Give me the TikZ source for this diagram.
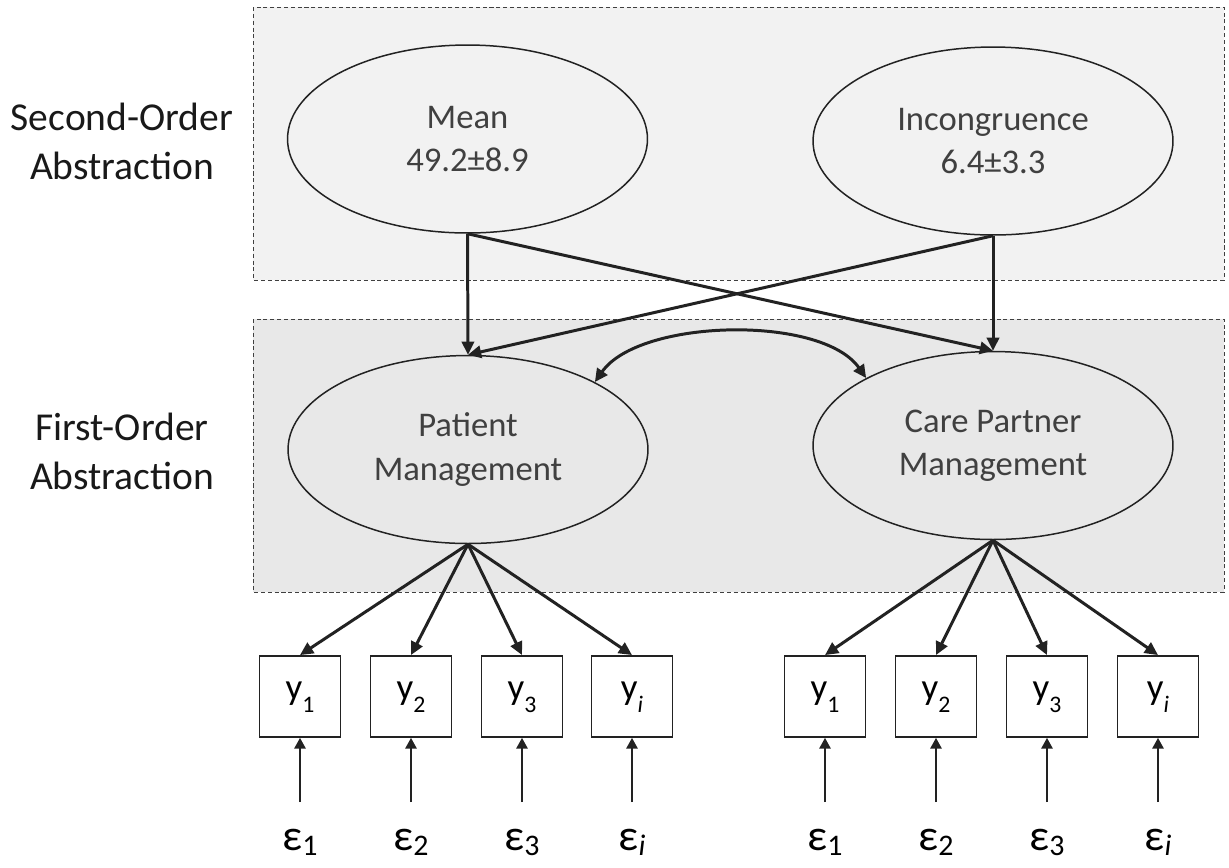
\documentclass[tikz,border=0pt]{standalone}
\usepackage{fontspec}
\setmainfont{Carlito}
\usepackage{xcolor}
\usetikzlibrary{shapes.geometric}
\usetikzlibrary{arrows.meta}
\definecolor{linegray}{HTML}{222222}
\definecolor{textgray}{HTML}{404040}
\definecolor{topfill}{HTML}{F2F2F2}
\definecolor{lowfill}{HTML}{E8E8E8}
\newcommand{\lowidx}[1]{\raisebox{-0.34em}{\fontsize{13.5}{14}\selectfont #1}}
\newcommand{\erridx}[1]{\raisebox{-0.12em}{\fontsize{17}{18}\selectfont #1}}
\tikzset{latent/.style={ellipse,draw=linegray,line width=0.85pt,minimum width=7.2cm,
   minimum height=3.76cm,inner sep=0pt,align=center,text=textgray,
   font=\fontsize{19.7}{24.6}\selectfont},
 indicator/.style={draw=linegray,line width=1.1pt,minimum size=1.62cm,inner sep=0pt,
   text height=11pt,font=\fontsize{21}{24}\selectfont},
 errlabel/.style={anchor=base,inner sep=0pt,font=\fontsize{25}{28}\selectfont},
 levellabel/.style={align=center,text=black!90,font=\fontsize{22.5}{27.8}\selectfont},
 layer/.style={draw=textgray,line width=0.5pt,dash pattern=on 2.3pt off 1.6pt},
 load/.style={draw=linegray,line width=1.7pt,-{Triangle[length=7.5pt,width=7pt]}},
 cov/.style={draw=linegray,line width=1.7pt,
   {Triangle[length=7.5pt,width=7pt]}-{Triangle[length=7.5pt,width=7pt]}},
 noise/.style={draw=linegray,line width=0.6pt,-{Triangle[length=6pt,width=6.5pt]}},
 }

\begin{document}
\begin{tikzpicture}[x=0.02cm,y=0.02cm]
    \path[use as bounding box,fill=white] (0,0) rectangle (1229,-867);
    \draw[layer,fill=topfill] (253,-7) rectangle (1224,-280);
    \draw[layer,fill=lowfill] (253,-319) rectangle (1224,-592);

    \node[levellabel] (lsecond) at (122,-141) {Second-Order\\Abstraction};
    \node[levellabel] (lfirst) at (122,-451) {First-Order\\Abstraction};

    \node[latent] (mean) at (467.5,-139) {Mean\\49.2±8.9};
    \node[latent] (incong) at (993,-141) {Incongruence\\6.4±3.3};
    \node[latent] (patient) at (468,-449.5) {Patient\\Management};
    \node[latent] (care) at (993,-445.5) {Care Partner\\Management};

    \draw[load] (mean.south) -- (patient.north);
    \draw[load] (mean.south) -- (care.north);
    \draw[load] (incong.south) -- (patient.north);
    \draw[load] (incong.south) -- (care.north);
    \draw[cov] (patient.28) to[out=55,in=125,looseness=0.73] (care.152);

    \foreach \x/\s [count=\i] in {300/1,411/2,522/3,632/\textit{i}}{
        \node[indicator] (p\i) at (\x,-696.5) {y\lowidx{\s}};
        \node[errlabel] (pe\i) at (\x,-850) {ε\erridx{\s}};
        \coordinate (ps\i) at (\x,-802);
        \draw[load] (patient.south) -- (p\i.north);
        \draw[noise] (ps\i) -- (p\i.south);
    }
    \foreach \x/\s [count=\i] in {825/1,936/2,1047/3,1158/\textit{i}}{
        \node[indicator] (c\i) at (\x,-696.5) {y\lowidx{\s}};
        \node[errlabel] (ce\i) at (\x,-850) {ε\erridx{\s}};
        \coordinate (cs\i) at (\x,-802);
        \draw[load] (care.south) -- (c\i.north);
        \draw[noise] (cs\i) -- (c\i.south);
    }
\end{tikzpicture}
\end{document}
